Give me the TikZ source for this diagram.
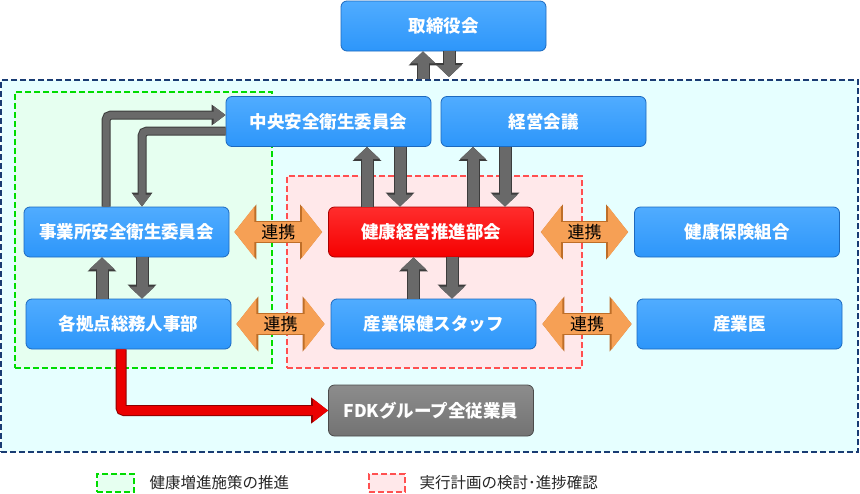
\documentclass[tikz,border=0pt]{standalone}
\usepackage{fontspec}
\setmainfont{Noto Sans CJK JP}
\usetikzlibrary{arrows.meta,calc}

\definecolor{boxblue}{RGB}{45,150,250}
\definecolor{boxbluetop}{RGB}{80,172,255}
\definecolor{boxblueline}{RGB}{28,105,190}
\definecolor{boxred}{RGB}{245,0,0}
\definecolor{boxredtop}{RGB}{255,45,45}
\definecolor{boxredline}{RGB}{170,0,0}
\definecolor{boxgray}{RGB}{115,115,115}
\definecolor{boxgraytop}{RGB}{140,140,140}
\definecolor{boxgrayline}{RGB}{75,75,75}
\definecolor{navy}{RGB}{25,60,115}
\definecolor{outerfill}{RGB}{230,255,255}
\definecolor{greenline}{RGB}{0,220,0}
\definecolor{greenfill}{RGB}{230,255,240}
\definecolor{redline}{RGB}{255,80,80}
\definecolor{redfill}{RGB}{255,232,234}
\definecolor{arrgray}{RGB}{105,105,105}
\definecolor{arrgrayline}{RGB}{60,60,60}
\definecolor{arrorange}{RGB}{246,160,85}
\definecolor{arrorangeline}{RGB}{190,110,40}
\definecolor{arrred}{RGB}{235,0,0}
\definecolor{arrredline}{RGB}{140,0,0}

\newcommand{\boxfont}{\fontsize{17.5}{20}\selectfont\bfseries}
\newcommand{\notefont}{\fontsize{15.5}{18}\selectfont}

\tikzset{
  orgbox/.style={rectangle, rounded corners=6pt, minimum width=205pt, minimum height=50pt,
    draw=boxblueline, line width=0.8pt, top color=boxbluetop, bottom color=boxblue,
    text=white, font=\boxfont, inner sep=0pt},
  redbox/.style={orgbox, draw=boxredline, top color=boxredtop, bottom color=boxred},
  graybox/.style={orgbox, draw=boxgrayline, top color=boxgraytop, bottom color=boxgray},
  areabox/.style={rectangle, line width=2pt, dash pattern=on 6pt off 3pt, inner sep=0pt},
  grayarr/.style={line width=11pt, draw=arrgray, -{Triangle[width=25pt,length=12pt]},
    preaction={draw=arrgrayline, line width=13pt, -{Triangle[width=28pt,length=14pt]}}},
  elbowarr/.style={line width=7pt, draw=arrgray, rounded corners=5pt, -{Triangle[width=17pt,length=12pt]},
    preaction={draw=arrgrayline, line width=9pt, -{Triangle[width=20pt,length=14pt]}}},
  redarr/.style={line width=9pt, draw=arrred, rounded corners=3pt, -{Triangle[width=22pt,length=15pt]},
    preaction={draw=arrredline, line width=11pt, -{Triangle[width=25pt,length=17pt]}}},
  renkei/.style={line width=20pt, draw=arrorange,
    {Triangle[width=50pt,length=20pt]}-{Triangle[width=50pt,length=20pt]},
    preaction={draw=arrorangeline, line width=22pt,
      {Triangle[width=54pt,length=22pt]}-{Triangle[width=54pt,length=22pt]}}},
  renkeitext/.style={font=\fontsize{17}{20}\selectfont, text=black, inner sep=0pt}
}

\begin{document}
\begin{tikzpicture}[x=1pt,y=-1pt]
\useasboundingbox (0,0) rectangle (860,493);

% Areas
\node[areabox, draw=navy, fill=outerfill, minimum width=857pt, minimum height=372pt] (zentai) at (429.5,266) {};
\node[areabox, draw=greenline, fill=greenfill, minimum width=257pt, minimum height=276pt] (zoshin) at (143.5,230) {};
\node[areabox, draw=redline, fill=redfill, minimum width=295pt, minimum height=192pt] (keikaku) at (434.5,272) {};

% Boxes
\node[orgbox] (torishimari) at (443.5,26) {取締役会};
\node[orgbox] (chuo) at (328.5,121.5) {中央安全衛生委員会};
\node[orgbox] (keiei) at (543.5,121.5) {経営会議};
\node[orgbox] (jimu) at (126.5,232) {事業所安全衛生委員会};
\node[redbox] (suishin) at (431,232) {健康経営推進部会};
\node[orgbox] (kenpo) at (737,232) {健康保険組合};
\node[orgbox] (kaku) at (128.5,324) {各拠点総務人事部};
\node[orgbox] (staff) at (433.5,324) {産業保健スタッフ};
\node[orgbox] (sangyoi) at (739.5,324) {産業医};
\node[graybox, minimum height=51pt] (fdk) at (431,410.5) {FDKグループ全従業員};

% Board <-> whole
\draw[grayarr] ([xshift=-20.5pt]torishimari.south |- zentai.north) -- ([xshift=-20.5pt]torishimari.south);
\draw[grayarr] ([xshift=5.5pt]torishimari.south) -- ([xshift=5.5pt,yshift=2pt]torishimari.south |- zentai.north);

% Committees <-> promotion board
\draw[grayarr] ([xshift=-64pt]suishin.north) -- ([xshift=-64pt]suishin.north |- chuo.south);
\draw[grayarr] ([xshift=-31pt]suishin.north |- chuo.south) -- ([xshift=-31pt]suishin.north);
\draw[grayarr] ([xshift=42pt]suishin.north) -- ([xshift=42pt]suishin.north |- keiei.south);
\draw[grayarr] ([xshift=74pt]suishin.north |- keiei.south) -- ([xshift=74pt]suishin.north);
\draw[grayarr] ([xshift=-20pt]staff.north) -- ([xshift=-20pt]staff.north |- suishin.south);
\draw[grayarr] ([xshift=18.5pt]staff.north |- suishin.south) -- ([xshift=18.5pt]staff.north);
\draw[grayarr] ([xshift=-26.5pt]kaku.north) -- ([xshift=-26.5pt]kaku.north |- jimu.south);
\draw[grayarr] ([xshift=13.5pt]kaku.north |- jimu.south) -- ([xshift=13.5pt]kaku.north);

% Site committee <-> central committee
\draw[elbowarr] ([xshift=-20.5pt]jimu.north) |- ([yshift=6.5pt]chuo.west);
\draw[elbowarr] ([yshift=-9.5pt]chuo.west) -| ([xshift=15.5pt]jimu.north);

% To all employees
\draw[redarr] ([xshift=-7.5pt]kaku.south) |- (fdk.west);

% Cooperation
\draw[renkei] ([xshift=5pt]jimu.east) -- ([xshift=-6pt]suishin.west) node[midway, renkeitext] (renkeiA) {連携};
\draw[renkei] ([xshift=7pt]suishin.east) -- ([xshift=-6pt]kenpo.west) node[midway, renkeitext] (renkeiB) {連携};
\draw[renkei] ([xshift=5pt]kaku.east) -- ([xshift=-6pt]staff.west) node[midway, renkeitext] (renkeiC) {連携};
\draw[renkei] ([xshift=6pt]staff.east) -- ([xshift=-5pt]sangyoi.west) node[midway, renkeitext] (renkeiD) {連携};

% Legend
\node[areabox, draw=greenline, fill=greenfill, minimum width=37pt, minimum height=18pt] (legzoshin) at (115.5,483) {};
\node[anchor=west, font=\notefont, text=black!85] (legzoshintxt) at (146,483) {健康増進施策の推進};
\node[areabox, draw=redline, fill=redfill, minimum width=36pt, minimum height=18pt] (legkeikaku) at (387,483) {};
\node[anchor=west, font=\notefont, text=black!85] (legkeikakutxt) at (416,483) {実行計画の検討･進捗確認};

\end{tikzpicture}
\end{document}
